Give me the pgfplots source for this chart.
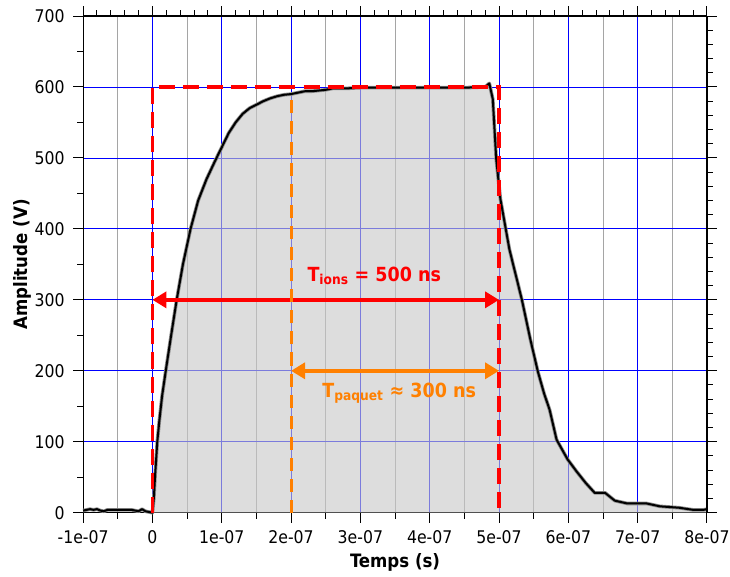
\documentclass[border=0pt]{standalone}
\usepackage{fontspec}
\setmainfont{DejaVu Sans Condensed}
\usepackage{pgfplots}
\pgfplotsset{compat=1.18}
\usetikzlibrary{calc,arrows.meta}
\definecolor{gridblue}{RGB}{0,0,255}
\definecolor{gridgray}{RGB}{165,165,165}
\definecolor{fillgray}{RGB}{200,200,200}
\definecolor{myorange}{RGB}{255,128,0}
\definecolor{myred}{RGB}{255,0,0}
\begin{document}
\begin{tikzpicture}
\begin{axis}[
  name=ax,
  scale only axis, width=623bp, height=496bp,
  xmin=-1, xmax=8, ymin=0, ymax=700,
  axis x line*=bottom, axis y line*=left,
  axis line style={black, line width=1.1pt},
  xtick={-1,0,...,8},
  xticklabels={-1e-07,0,1e-07,2e-07,3e-07,4e-07,5e-07,6e-07,7e-07,8e-07},
  minor xtick={-0.5,0.5,1.5,2.5,3.5,4.5,5.5,6.5,7.5},
  ytick={0,100,...,700},
  minor ytick={50,150,...,650},
  tick align=outside,
  major tick length=10bp, minor tick length=6bp,
  every tick/.style={black, line width=1pt},
  xmajorgrids, xminorgrids, ymajorgrids,
  major grid style={gridblue, line width=0.8pt},
  minor grid style={gridgray, line width=0.8pt},
  tick label style={font=\fontsize{17.5}{20}\selectfont},
  xticklabel style={yshift=-4bp},
  yticklabel style={xshift=-5bp},
  /pgf/number format/assume math mode=true,
  xlabel={\textbf{Temps (s)}},
  ylabel={\textbf{Amplitude (V)}},
  label style={font=\fontsize{18.5}{20}\selectfont},
  xlabel style={at={(axis description cs:0.5,0)}, anchor=center, yshift=-50bp},
  ylabel style={at={(axis description cs:0,0.5)}, anchor=center, yshift=61bp},
  clip=false,
]
% filled signal
\addplot[draw=none, fill=fillgray, fill opacity=0.62] coordinates {
(0,0)(0.02,20)(0.04,55)(0.07,100)(0.1,130)(0.14,165)(0.2,205)(0.27,250)(0.35,300)(0.44,350)(0.55,400)(0.66,440)(0.78,470)(0.9,495)(1.0,515)(1.1,535)(1.2,550)(1.3,562)(1.4,570)(1.5,575)(1.6,580)(1.7,584)(1.8,587)(1.9,589)(2.0,590)(2.1,592)(2.2,594)(2.3,594)(2.4,595)(2.5,596)(2.6,598)(2.8,598)(3.0,599)(3.5,599)(4.0,599)(4.5,599)(4.8,600)(4.86,605)(4.91,583)(4.96,498)(5.02,442)(5.15,371)(5.33,300)(5.45,245)(5.56,199)(5.65,168)(5.73,145)(5.83,103)(5.99,75)(6.12,58)(6.25,42)(6.38,28)(6.53,28)(6.67,17)(6.85,13)(7.13,13)(7.32,9)(7.6,7)(7.8,4)(7.95,4)(8.0,5)
} \closedcycle;
% shadow and curve
\addplot[color=black!45, line width=3.6pt, line join=round] coordinates {
(-1.0,3)(-0.95,4)(-0.9,5)(-0.85,4)(-0.8,5)(-0.75,3)(-0.7,2)(-0.65,4)(-0.6,4)(-0.5,4)(-0.4,4)(-0.3,4)(-0.25,3)(-0.2,2)(-0.15,5)(-0.1,2)(-0.05,1)
(0,0)(0.02,20)(0.04,55)(0.07,100)(0.1,130)(0.14,165)(0.2,205)(0.27,250)(0.35,300)(0.44,350)(0.55,400)(0.66,440)(0.78,470)(0.9,495)(1.0,515)(1.1,535)(1.2,550)(1.3,562)(1.4,570)(1.5,575)(1.6,580)(1.7,584)(1.8,587)(1.9,589)(2.0,590)(2.1,592)(2.2,594)(2.3,594)(2.4,595)(2.5,596)(2.6,598)(2.8,598)(3.0,599)(3.5,599)(4.0,599)(4.5,599)(4.8,600)(4.86,605)(4.91,583)(4.96,498)(5.02,442)(5.15,371)(5.33,300)(5.45,245)(5.56,199)(5.65,168)(5.73,145)(5.83,103)(5.99,75)(6.12,58)(6.25,42)(6.38,28)(6.53,28)(6.67,17)(6.85,13)(7.13,13)(7.32,9)(7.6,7)(7.8,4)(7.95,4)(8.0,5)
};
\addplot[color=black, line width=2pt, line join=round] coordinates {
(-1.0,3)(-0.95,4)(-0.9,5)(-0.85,4)(-0.8,5)(-0.75,3)(-0.7,2)(-0.65,4)(-0.6,4)(-0.5,4)(-0.4,4)(-0.3,4)(-0.25,3)(-0.2,2)(-0.15,5)(-0.1,2)(-0.05,1)
(0,0)(0.02,20)(0.04,55)(0.07,100)(0.1,130)(0.14,165)(0.2,205)(0.27,250)(0.35,300)(0.44,350)(0.55,400)(0.66,440)(0.78,470)(0.9,495)(1.0,515)(1.1,535)(1.2,550)(1.3,562)(1.4,570)(1.5,575)(1.6,580)(1.7,584)(1.8,587)(1.9,589)(2.0,590)(2.1,592)(2.2,594)(2.3,594)(2.4,595)(2.5,596)(2.6,598)(2.8,598)(3.0,599)(3.5,599)(4.0,599)(4.5,599)(4.8,600)(4.86,605)(4.91,583)(4.96,498)(5.02,442)(5.15,371)(5.33,300)(5.45,245)(5.56,199)(5.65,168)(5.73,145)(5.83,103)(5.99,75)(6.12,58)(6.25,42)(6.38,28)(6.53,28)(6.67,17)(6.85,13)(7.13,13)(7.32,9)(7.6,7)(7.8,4)(7.95,4)(8.0,5)
};
% red dashed window
\addplot[myred, line width=3.2pt, dash pattern=on 16bp off 8bp] coordinates {(0,0)(0,600)(5,600)(5,0)};
% arrows
\draw[myred, line width=4.5pt, {Triangle[length=14bp,width=16bp]}-{Triangle[length=14bp,width=16bp]}] (axis cs:0,300) -- (axis cs:5,300);
\draw[myorange, line width=4.5pt, {Triangle[length=14bp,width=16bp]}-{Triangle[length=14bp,width=16bp]}] (axis cs:2,200) -- (axis cs:5,200);
% orange dashed
\draw[draw=myorange, line width=3pt, dash pattern=on 13bp off 8bp] (axis cs:2,0) -- (axis cs:2,592);
% labels
\node[myred, font=\fontsize{19.5}{22}\selectfont\bfseries] at (axis cs:3.2,334) {T\textsubscript{ions} = 500 ns};
\node[myorange, font=\fontsize{19.5}{22}\selectfont\bfseries] at (axis cs:3.56,168) {T\textsubscript{paquet} ≈ 300 ns};
\end{axis}
\begin{axis}[
  scale only axis, width=623bp, height=496bp,
  xmin=-1, xmax=8, ymin=0, ymax=700,
  axis x line*=top, axis y line*=right,
  axis line style={black, line width=1.1pt},
  xtick={-1,0,...,8}, xticklabels={},
  minor x tick num=4,
  ytick={0,100,...,700}, yticklabels={},
  minor y tick num=4,
  tick align=outside,
  major tick length=10bp, minor tick length=6bp,
  every tick/.style={black, line width=1pt},
]
\end{axis}
\pgfresetboundingbox
\path[use as bounding box] ($(ax.south west)+(-83bp,-64bp)$) rectangle ($(ax.north east)+(23bp,16bp)$);
\end{tikzpicture}
\end{document}
